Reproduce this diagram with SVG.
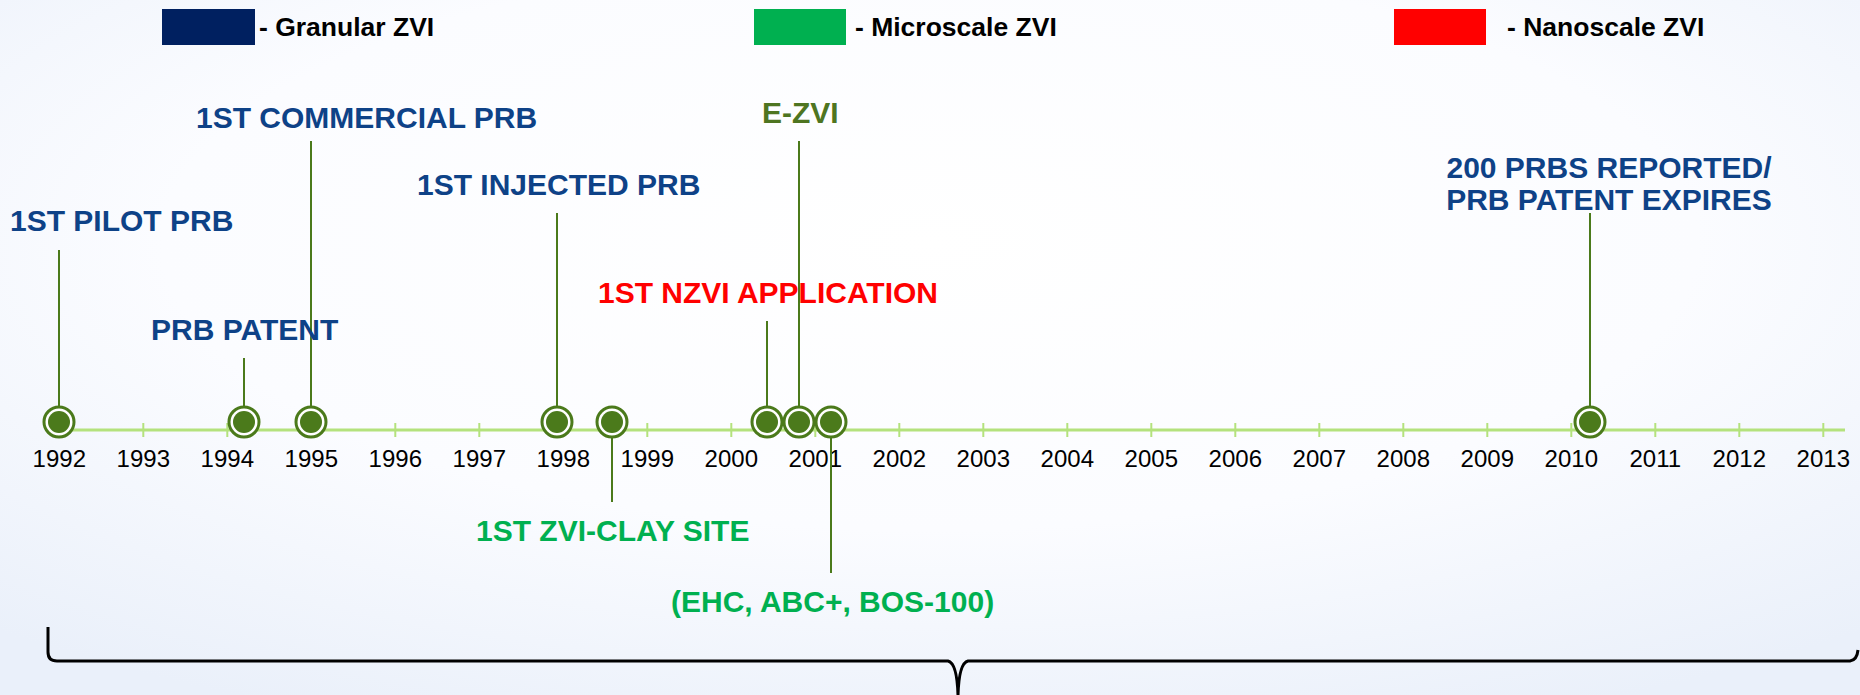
<svg xmlns="http://www.w3.org/2000/svg" width="1860" height="695" viewBox="0 0 1860 695">
<defs>
<radialGradient id="bg" cx="0.5" cy="0.35" r="0.75">
<stop offset="0" stop-color="#ffffff"/>
<stop offset="0.55" stop-color="#fbfcff"/>
<stop offset="1" stop-color="#eaf0fa"/>
</radialGradient>
<g id="dot">
<circle r="15" fill="#ffffff" stroke="#4b7a1b" stroke-width="3"/>
<circle r="11" fill="#4b7a1b"/>
</g>
</defs>
<style>
.lg{font-family:"Liberation Sans",Arial,sans-serif;font-weight:bold;font-size:26.5px;fill:#000}
.yr{font-family:"Liberation Sans",Arial,sans-serif;font-size:24px;fill:#000;text-anchor:middle}
.ev{font-family:"Liberation Sans",Arial,sans-serif;font-weight:bold;font-size:30px}
.blue{fill:#0e4287}
.red{fill:#ff0000}
.olive{fill:#4e7521}
.grn{fill:#00b050}
.pin{stroke:#4b7a1b;stroke-width:2;fill:none}
.axis{stroke:#b4e27d;stroke-width:3}
.tick{stroke:#b4e27d;stroke-width:2}
</style>
<rect width="1860" height="695" fill="url(#bg)"/>

<g id="legend-granular">
<rect x="162" y="9" width="93" height="36" fill="#002060"/>
<text class="lg" x="259" y="36">- Granular ZVI</text>
</g>
<g id="legend-microscale">
<rect x="754" y="9" width="92" height="36" fill="#00b050"/>
<text class="lg" x="855" y="36">- Microscale ZVI</text>
</g>
<g id="legend-nanoscale">
<rect x="1394" y="9" width="92" height="36" fill="#ff0000"/>
<text class="lg" x="1507" y="36">- Nanoscale ZVI</text>
</g>

<g id="axis">
<line class="axis" x1="59" y1="430" x2="1845" y2="430"/>
<g class="tick">
<line x1="59.3" y1="423" x2="59.3" y2="437"/>
<line x1="143.3" y1="423" x2="143.3" y2="437"/>
<line x1="227.3" y1="423" x2="227.3" y2="437"/>
<line x1="311.3" y1="423" x2="311.3" y2="437"/>
<line x1="395.3" y1="423" x2="395.3" y2="437"/>
<line x1="479.3" y1="423" x2="479.3" y2="437"/>
<line x1="563.3" y1="423" x2="563.3" y2="437"/>
<line x1="647.3" y1="423" x2="647.3" y2="437"/>
<line x1="731.3" y1="423" x2="731.3" y2="437"/>
<line x1="815.3" y1="423" x2="815.3" y2="437"/>
<line x1="899.3" y1="423" x2="899.3" y2="437"/>
<line x1="983.3" y1="423" x2="983.3" y2="437"/>
<line x1="1067.3" y1="423" x2="1067.3" y2="437"/>
<line x1="1151.3" y1="423" x2="1151.3" y2="437"/>
<line x1="1235.3" y1="423" x2="1235.3" y2="437"/>
<line x1="1319.3" y1="423" x2="1319.3" y2="437"/>
<line x1="1403.3" y1="423" x2="1403.3" y2="437"/>
<line x1="1487.3" y1="423" x2="1487.3" y2="437"/>
<line x1="1571.3" y1="423" x2="1571.3" y2="437"/>
<line x1="1655.3" y1="423" x2="1655.3" y2="437"/>
<line x1="1739.3" y1="423" x2="1739.3" y2="437"/>
<line x1="1823.3" y1="423" x2="1823.3" y2="437"/>
</g>
<text class="yr" x="59.3" y="467">1992</text>
<text class="yr" x="143.3" y="467">1993</text>
<text class="yr" x="227.3" y="467">1994</text>
<text class="yr" x="311.3" y="467">1995</text>
<text class="yr" x="395.3" y="467">1996</text>
<text class="yr" x="479.3" y="467">1997</text>
<text class="yr" x="563.3" y="467">1998</text>
<text class="yr" x="647.3" y="467">1999</text>
<text class="yr" x="731.3" y="467">2000</text>
<text class="yr" x="815.3" y="467">2001</text>
<text class="yr" x="899.3" y="467">2002</text>
<text class="yr" x="983.3" y="467">2003</text>
<text class="yr" x="1067.3" y="467">2004</text>
<text class="yr" x="1151.3" y="467">2005</text>
<text class="yr" x="1235.3" y="467">2006</text>
<text class="yr" x="1319.3" y="467">2007</text>
<text class="yr" x="1403.3" y="467">2008</text>
<text class="yr" x="1487.3" y="467">2009</text>
<text class="yr" x="1571.3" y="467">2010</text>
<text class="yr" x="1655.3" y="467">2011</text>
<text class="yr" x="1739.3" y="467">2012</text>
<text class="yr" x="1823.3" y="467">2013</text>
</g>

<g id="connectors">
<line class="pin" x1="59" y1="250" x2="59" y2="422"/>
<line class="pin" x1="244" y1="358" x2="244" y2="422"/>
<line class="pin" x1="311" y1="141" x2="311" y2="422"/>
<line class="pin" x1="557" y1="213" x2="557" y2="422"/>
<line class="pin" x1="612" y1="422" x2="612" y2="502"/>
<line class="pin" x1="767" y1="321" x2="767" y2="422"/>
<line class="pin" x1="799" y1="141" x2="799" y2="422"/>
<line class="pin" x1="831" y1="422" x2="831" y2="573"/>
<line class="pin" x1="1590" y1="213" x2="1590" y2="422"/>
</g>

<g id="ev-1st-pilot-prb">
<use href="#dot" x="59" y="422"/>
<text class="ev blue" x="10" y="231">1ST PILOT PRB</text>
</g>
<g id="ev-prb-patent">
<use href="#dot" x="244" y="422"/>
<text class="ev blue" x="151" y="340">PRB PATENT</text>
</g>
<g id="ev-1st-commercial-prb">
<use href="#dot" x="311" y="422"/>
<text class="ev blue" x="196" y="128">1ST COMMERCIAL PRB</text>
</g>
<g id="ev-1st-injected-prb">
<use href="#dot" x="557" y="422"/>
<text class="ev blue" x="417" y="195">1ST INJECTED PRB</text>
</g>
<g id="ev-1st-zvi-clay-site">
<use href="#dot" x="612" y="422"/>
<text class="ev grn" x="476" y="541">1ST ZVI-CLAY SITE</text>
</g>
<g id="ev-1st-nzvi-application">
<use href="#dot" x="767" y="422"/>
<text class="ev red" x="598" y="303">1ST NZVI APPLICATION</text>
</g>
<g id="ev-e-zvi">
<use href="#dot" x="799" y="422"/>
<text class="ev olive" x="762" y="123">E-ZVI</text>
</g>
<g id="ev-ehc-abc-bos">
<use href="#dot" x="831" y="422"/>
<text class="ev grn" x="671" y="612">(EHC, ABC+, BOS-100)</text>
</g>
<g id="ev-200-prbs">
<use href="#dot" x="1590" y="422"/>
<text class="ev blue" text-anchor="middle"><tspan x="1609" y="178">200 PRBS REPORTED/</tspan><tspan x="1609" y="210">PRB PATENT EXPIRES</tspan></text>
</g>

<g id="brace">
<path d="M48 627 L48 652 Q48 661 57 661 L948 661 Q957 663 958 695 Q959 663 968 661 L1850 661 Q1857 660 1858 650" fill="none" stroke="#000" stroke-width="3"/>
</g>
</svg>
